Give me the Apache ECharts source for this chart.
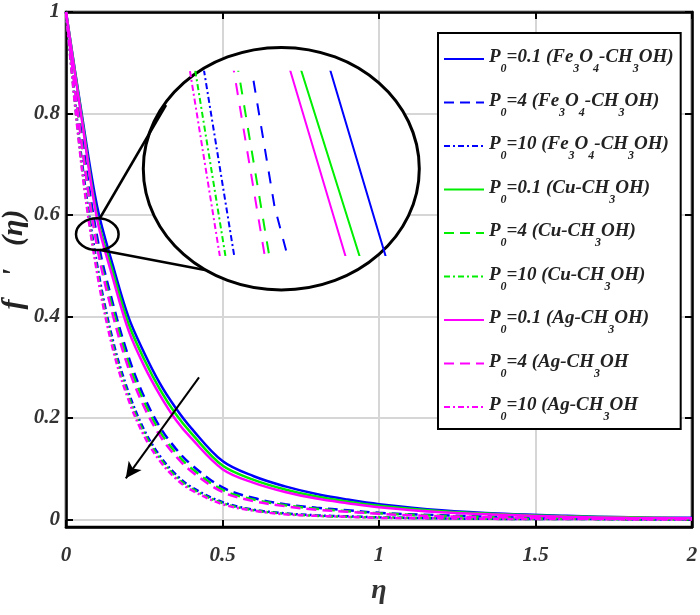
<!DOCTYPE html>
<html>
<head>
<meta charset="utf-8">
<script src="https://cdn.jsdelivr.net/npm/echarts@6/dist/echarts.min.js"></script>
<style>
  html, body { margin: 0; padding: 0; background: #fff; }
  #chart { width: 700px; height: 615px; }
</style>
</head>
<body>
<div id="chart"></div>
<script>
// eta values (x axis)
const eta = [0, 0.05, 0.1, 0.15, 0.2, 0.25, 0.3, 0.35, 0.4, 0.5, 0.6, 0.7, 0.8, 0.9, 1.0, 1.2, 1.4, 1.6, 1.8, 2.0];

// f'(eta)
const fe01 = [1, 0.80, 0.615, 0.50, 0.398, 0.328, 0.268, 0.220, 0.180, 0.115, 0.085, 0.065, 0.050, 0.039, 0.030, 0.018, 0.011, 0.007, 0.004, 0.003];
const fe4  = [1, 0.76, 0.555, 0.425, 0.320, 0.241, 0.182, 0.140, 0.108, 0.063, 0.042, 0.030, 0.023, 0.018, 0.013, 0.008, 0.005, 0.003, 0.002, 0.001];
const fe10 = [1, 0.71, 0.500, 0.352, 0.250, 0.176, 0.125, 0.089, 0.064, 0.034, 0.019, 0.012, 0.008, 0.006, 0.004, 0.002, 0.001, 0.001, 0, 0];
const cu01 = [1, 0.795, 0.596, 0.487, 0.385, 0.315, 0.256, 0.208, 0.170, 0.106, 0.078, 0.059, 0.045, 0.035, 0.027, 0.016, 0.010, 0.006, 0.004, 0.002];
const cu4  = [1, 0.745, 0.540, 0.413, 0.308, 0.231, 0.173, 0.132, 0.101, 0.058, 0.039, 0.028, 0.021, 0.016, 0.012, 0.007, 0.004, 0.003, 0.002, 0.001];
const cu10 = [1, 0.70, 0.490, 0.343, 0.242, 0.170, 0.120, 0.085, 0.061, 0.032, 0.018, 0.011, 0.007, 0.005, 0.004, 0.002, 0.001, 0.001, 0, 0];
const ag01 = [1, 0.79, 0.590, 0.475, 0.372, 0.302, 0.245, 0.197, 0.160, 0.099, 0.072, 0.054, 0.041, 0.032, 0.024, 0.014, 0.009, 0.005, 0.003, 0.002];
const ag4  = [1, 0.74, 0.535, 0.402, 0.297, 0.221, 0.165, 0.125, 0.095, 0.054, 0.036, 0.026, 0.019, 0.015, 0.011, 0.006, 0.004, 0.002, 0.001, 0.001];
const ag10 = [1, 0.695, 0.483, 0.335, 0.235, 0.164, 0.115, 0.081, 0.058, 0.030, 0.017, 0.010, 0.007, 0.005, 0.003, 0.002, 0.001, 0.001, 0, 0];

const yTicks = [0, 0.2, 0.4, 0.6, 0.8, 1];

const names = [
  'P0=0.1 (Fe3O4-CH3OH)', 'P0=4 (Fe3O4-CH3OH)', 'P0=10 (Fe3O4-CH3OH)',
  'P0=0.1 (Cu-CH3OH)', 'P0=4 (Cu-CH3OH)', 'P0=10 (Cu-CH3OH)',
  'P0=0.1 (Ag-CH3OH)', 'P0=4 (Ag-CH3OH', 'P0=10 (Ag-CH3OH'
];
// legend text with subscripts
const legendRich = [
  '{n|P}{s|0}{n|=0.1 (Fe}{s|3}{n|O}{s|4}{n|-CH}{s|3}{n|OH)}',
  '{n|P}{s|0}{n|=4 (Fe}{s|3}{n|O}{s|4}{n|-CH}{s|3}{n|OH)}',
  '{n|P}{s|0}{n|=10 (Fe}{s|3}{n|O}{s|4}{n|-CH}{s|3}{n|OH)}',
  '{n|P}{s|0}{n|=0.1 (Cu-CH}{s|3}{n|OH)}',
  '{n|P}{s|0}{n|=4 (Cu-CH}{s|3}{n|OH)}',
  '{n|P}{s|0}{n|=10 (Cu-CH}{s|3}{n|OH)}',
  '{n|P}{s|0}{n|=0.1 (Ag-CH}{s|3}{n|OH)}',
  '{n|P}{s|0}{n|=4 (Ag-CH}{s|3}{n|OH}',
  '{n|P}{s|0}{n|=10 (Ag-CH}{s|3}{n|OH}'
];
const allData = [fe01, fe4, fe10, cu01, cu4, cu10, ag01, ag4, ag10];
const colors = ['#0000ff', '#0000ff', '#0000ff', '#00ee00', '#00ee00', '#00ee00', '#ff00ff', '#ff00ff', '#ff00ff'];
const mainDash = ['solid', [10, 6], [6, 3, 2, 3]];
const insetDash = ['solid', [12, 11], [6, 3, 2, 3]];

const fontBase = { fontFamily: 'Liberation Serif', fontStyle: 'italic', fontWeight: 'bold' };

const chart = echarts.init(document.getElementById('chart'));

let series = [];
allData.forEach((d, i) => {
  series.push({
    name: names[i],
    type: 'line',
    xAxisIndex: 0,
    yAxisIndex: 0,
    data: eta.map((x, k) => [x, d[k]]),
    symbol: 'none',
    smooth: 0.35,
    lineStyle: { color: colors[i], width: 2.5, type: mainDash[i % 3] },
    itemStyle: { color: colors[i] },
    z: 2
  });
});
// magnified view inside the big circle
allData.forEach((d, i) => {
  series.push({
    name: names[i],
    type: 'line',
    xAxisIndex: 2,
    yAxisIndex: 2,
    data: eta.map((x, k) => [x, d[k]]),
    symbol: 'none',
    smooth: false,
    clip: true,
    lineStyle: { color: colors[i], width: 2, type: insetDash[i % 3] },
    z: 6,
    silent: true
  });
});
// arrow showing increasing P0
series[0].markLine = {
  silent: true,
  symbol: ['none', 'arrow'],
  symbolSize: [12, 16],
  label: { show: false },
  lineStyle: { color: '#000', width: 2, type: 'solid' },
  data: [[{ coord: [0.425, 0.28] }, { coord: [0.191, 0.081] }]]
};

const tickStyle = { inside: true, length: 7, lineStyle: { color: '#000', width: 2 } };

chart.setOption({
  animation: false,
  grid: [
    { left: 66, right: 8, top: 12, bottom: 88, outerBoundsMode: 'none', containLabel: false, show: true, borderColor: '#000', borderWidth: 2.5 },
    { left: 150, top: 71.7, width: 260, height: 183.3, outerBoundsMode: 'none', containLabel: false }
  ],
  xAxis: [
    {
      type: 'value', gridIndex: 0, min: 0, max: 2, interval: 0.5,
      axisLine: { onZero: false, lineStyle: { color: '#000', width: 2.5 } },
      axisTick: tickStyle,
      axisLabel: Object.assign({ color: '#333', fontSize: 21, margin: 18 }, fontBase),
      splitLine: { show: true, lineStyle: { color: '#d6d6d6', width: 2 } },
      name: 'η', nameLocation: 'middle', nameGap: 50, nameMoveOverlap: false,
      nameTextStyle: Object.assign({ color: '#333', fontSize: 28 }, fontBase)
    },
    {
      type: 'value', gridIndex: 0, position: 'top', min: 0, max: 2, interval: 0.5,
      axisLine: { onZero: false, lineStyle: { color: '#000', width: 2.5 } },
      axisTick: tickStyle, axisLabel: { show: false }, splitLine: { show: false }
    },
    { type: 'value', gridIndex: 1, min: 0.06627, max: 0.1367, show: false, splitLine: { show: false } }
  ],
  yAxis: [
    {
      type: 'value', gridIndex: 0, min: -0.015, max: 1,
      axisLine: { onZero: false, lineStyle: { color: '#000', width: 2.5 } },
      axisTick: Object.assign({ customValues: yTicks }, tickStyle),
      axisLabel: Object.assign({ customValues: yTicks, color: '#333', fontSize: 21, margin: 6 }, fontBase),
      splitLine: { show: true, lineStyle: { color: '#d6d6d6', width: 2 } },
      name: "f   '   (η)", nameLocation: 'middle', nameGap: 37, nameRotate: 90, nameMoveOverlap: false,
      nameTextStyle: Object.assign({ color: '#222', fontSize: 30, padding: [0, 0, 0, 20] }, fontBase)
    },
    {
      type: 'value', gridIndex: 0, position: 'right', min: -0.015, max: 1,
      axisLine: { onZero: false, lineStyle: { color: '#000', width: 2.5 } },
      axisTick: Object.assign({ customValues: yTicks }, tickStyle),
      axisLabel: { show: false }, splitLine: { show: false }
    },
    { type: 'value', gridIndex: 1, min: 0.546, max: 0.58, show: false, splitLine: { show: false } }
  ],
  legend: {
    data: names,
    orient: 'vertical',
    left: 438,
    top: 33,
    padding: [15, 7, 6, 5],
    itemWidth: 40,
    itemHeight: 14,
    itemGap: 16.5,
    selectedMode: false,
    backgroundColor: '#fff',
    borderColor: '#000',
    borderWidth: 2,
    itemStyle: { color: 'transparent', borderColor: 'transparent', borderWidth: 0 },
    formatter: function (name) { return legendRich[names.indexOf(name)]; },
    textStyle: {
      rich: {
        n: Object.assign({ color: '#222', fontSize: 19, lineHeight: 22, verticalAlign: 'top' }, fontBase),
        s: Object.assign({ color: '#222', fontSize: 12, lineHeight: 12, padding: [15, 0, 0, 0], verticalAlign: 'top' }, fontBase)
      }
    }
  },
  graphic: [
    { type: 'ellipse', shape: { cx: 281.3, cy: 168.7, rx: 138, ry: 121.3 }, style: { fill: '#fff', stroke: '#000', lineWidth: 3 }, z: 3 },
    { type: 'line', shape: { x1: 100, y1: 218, x2: 166, y2: 105 }, style: { stroke: '#000', lineWidth: 2.5 }, z: 3 },
    { type: 'line', shape: { x1: 100, y1: 250, x2: 205, y2: 270 }, style: { stroke: '#000', lineWidth: 2.5 }, z: 3 },
    { type: 'ellipse', shape: { cx: 97.3, cy: 234.2, rx: 21.3, ry: 15.9 }, style: { fill: 'none', stroke: '#000', lineWidth: 2.5 }, z: 10 }
  ],
  series: series
});
</script>
</body>
</html>
